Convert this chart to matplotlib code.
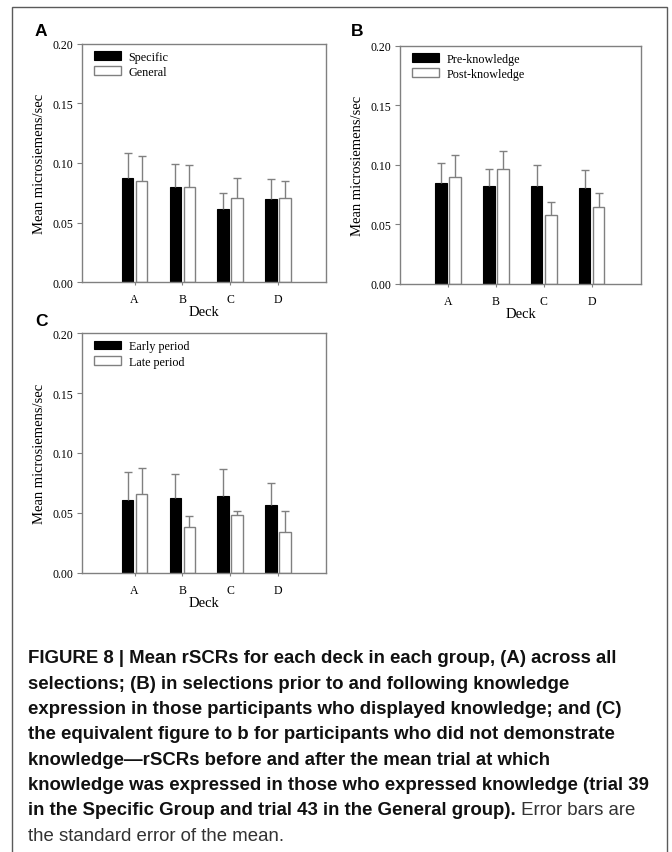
import matplotlib
matplotlib.use("Agg")
import matplotlib.pyplot as plt
import matplotlib.patches as mpatches
import numpy as np

# ── Data ──────────────────────────────────────────────────────────────────────
decks = ["A", "B", "C", "D"]

a_specific     = [0.0877, 0.0799, 0.0612, 0.0701]
a_specific_se  = [0.0207, 0.0195, 0.0134, 0.0162]
a_general      = [0.0852, 0.0799, 0.0709, 0.0704]
a_general_se   = [0.0204, 0.0184, 0.0163, 0.0142]

b_pre          = [0.0846, 0.0818, 0.0824, 0.0801]
b_pre_se       = [0.0165, 0.0146, 0.0170, 0.0154]
b_post         = [0.0894, 0.0964, 0.0577, 0.0641]
b_post_se      = [0.0190, 0.0154, 0.0109, 0.0121]

c_early        = [0.0610, 0.0624, 0.0638, 0.0565]
c_early_se     = [0.0234, 0.0198, 0.0226, 0.0184]
c_late         = [0.0657, 0.0379, 0.0479, 0.0340]
c_late_se      = [0.0218, 0.0092, 0.0039, 0.0173]

# ── Style ─────────────────────────────────────────────────────────────────────
GRAY  = "#808080"
FRAME = "#5a5a5a"
SERIF = ["Liberation Serif", "DejaVu Serif"]
SANS  = ["Liberation Sans", "DejaVu Sans"]

W, H = 672, 853
fig = plt.figure(figsize=(W / 100, H / 100), dpi=100, facecolor="white")


def px_axes(left, top, right, bottom):
    """axes rect from pixel box (top-left origin)"""
    return [left / W, 1 - bottom / H, (right - left) / W, (bottom - top) / H]


def panel(rect, m1, e1, m2, e2, labels, xlim, letter, letter_xy):
    ax = fig.add_axes(rect)
    x = np.arange(1, len(decks) + 1)
    off, bw = 0.147, 0.24
    ax.bar(x - off, m1, bw, color="black", edgecolor="black", linewidth=0.8,
           label=labels[0], zorder=2)
    ax.bar(x + off, m2, bw, color="white", edgecolor=GRAY, linewidth=1.0,
           label=labels[1], zorder=2)
    for xs, m, e in ((x - off, m1, e1), (x + off, m2, e2)):
        eb = ax.errorbar(xs, m, yerr=[np.zeros(len(e)), e], fmt="none",
                         ecolor=GRAY, elinewidth=1.0, capsize=3, capthick=1.0,
                         zorder=3)
        eb[1][0].set_visible(False)  # upper error only
    ax.set_xlim(*xlim)
    ax.set_ylim(0, 0.20)
    ax.set_xticks(x)
    ax.set_xticklabels(decks)
    ax.set_yticks([0, 0.05, 0.10, 0.15, 0.20])
    ax.set_yticklabels([f"{v:.2f}" for v in [0, 0.05, 0.10, 0.15, 0.20]])
    ax.tick_params(axis="x", direction="out", length=2.5, width=0.8, color=GRAY,
                   pad=5.5, labelsize=8.5)
    ax.tick_params(axis="y", direction="out", length=3.5, width=0.8, color=GRAY,
                   pad=2.5, labelsize=8.5)
    for lbl in ax.get_xticklabels() + ax.get_yticklabels():
        lbl.set_family(SERIF)
    for sp in ax.spines.values():
        sp.set_edgecolor(GRAY)
        sp.set_linewidth(1.0)
    ax.set_xlabel("Deck", family=SERIF, fontsize=10.5, labelpad=0)
    ax.set_ylabel("Mean microsiemens/sec", family=SERIF, fontsize=10.5, labelpad=5)
    ax.legend(loc="upper left", bbox_to_anchor=(0.048, 0.97), frameon=False,
              borderpad=0, borderaxespad=0, handlelength=2.3, handleheight=0.7,
              handletextpad=0.6, labelspacing=0.25,
              prop={"family": SERIF, "size": 8.7})
    fig.text(letter_xy[0] / W, 1 - letter_xy[1] / H, letter, family=SANS,
             fontweight="bold", fontsize=12.5, ha="center", va="center")
    return ax


panel(px_axes(82, 44.7, 325.7, 283.3), a_specific, a_specific_se,
      a_general, a_general_se, ["Specific", "General"], (-0.1, 5.0), "A", (41, 31))
panel(px_axes(400, 46.5, 641, 284.7), b_pre, b_pre_se,
      b_post, b_post_se, ["Pre-knowledge", "Post-knowledge"], (0.0, 5.03), "B", (357, 32))
panel(px_axes(82, 334.3, 325.7, 573.7), c_early, c_early_se,
      c_late, c_late_se, ["Early period", "Late period"], (-0.1, 5.0), "C", (41, 321))

# ── Outer frame ───────────────────────────────────────────────────────────────
fig.patches.append(mpatches.Rectangle((12 / W, -0.05), (667 - 12) / W, 1.05 - 8 / H,
                                      transform=fig.transFigure, fill=False,
                                      edgecolor=FRAME, linewidth=1.0))

# ── Caption ───────────────────────────────────────────────────────────────────
bold_lines = [
    "FIGURE 8 | Mean rSCRs for each deck in each group, (A) across all",
    "selections; (B) in selections prior to and following knowledge",
    "expression in those participants who displayed knowledge; and (C)",
    "the equivalent figure to b for participants who did not demonstrate",
    "knowledge\u2014rSCRs before and after the mean trial at which",
    "knowledge was expressed in those who expressed knowledge (trial 39",
    "in the Specific Group and trial 43 in the General group).",
]
y0, dy = 659, 25.3
cap_kw = dict(family=SANS, fontsize=13.4, color="#111111", va="center", ha="left")
last = None
for i, line in enumerate(bold_lines):
    last = fig.text(28 / W, 1 - (y0 + i * dy) / H, line, fontweight="bold", **cap_kw)
plt.annotate(" Error bars are", xy=(1, 0), xycoords=last, va="bottom", ha="left",
             family=SANS, fontsize=13.4, color="#333333", fontweight="normal",
             annotation_clip=False)
fig.text(28 / W, 1 - (y0 + 7 * dy) / H, "the standard error of the mean.",
         fontweight="normal", **{**cap_kw, "color": "#333333"})

fig.savefig("out.png", dpi=100, facecolor="white")
